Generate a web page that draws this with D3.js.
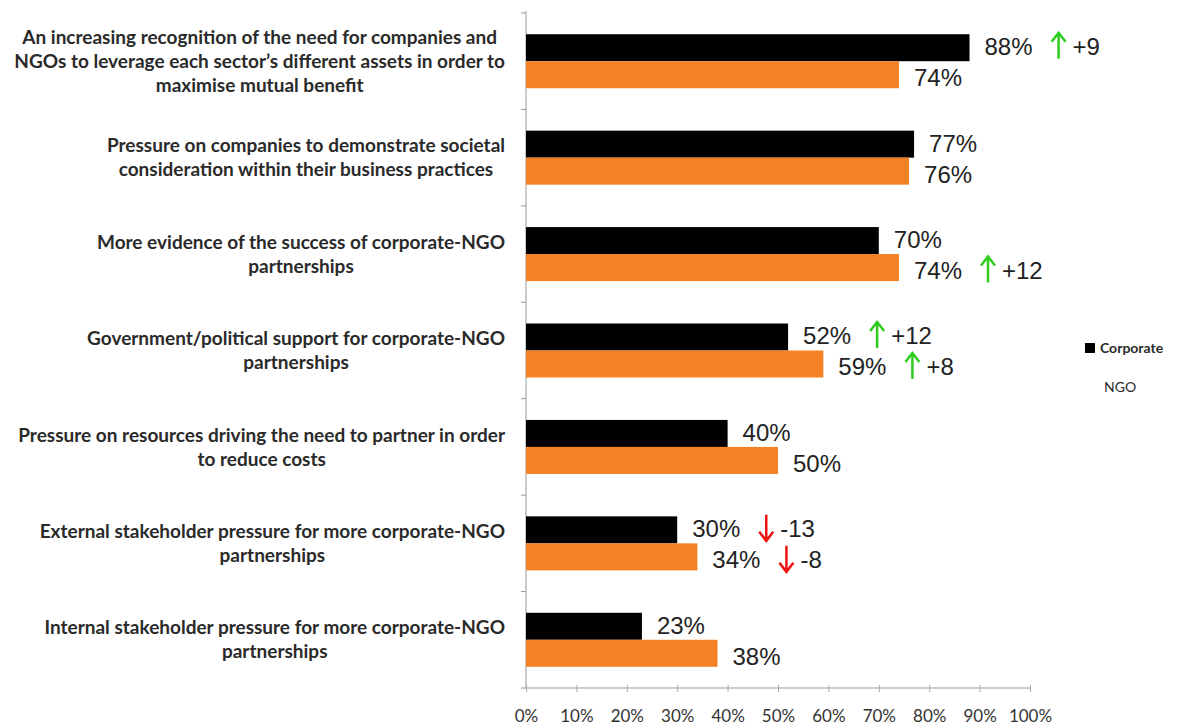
<!DOCTYPE html>
<html>
  <head>
    <style>
      body {
        margin: 0;
        background: #fff;
      }
      svg text {
        font-family: "Lato", "Open Sans", sans-serif;
      }
    </style>
    <script src="https://d3js.org/d3.v7.min.js"></script>
  </head>
  <body>
    <script>
      const width = 1195;
      const height = 726;

      const categories = [
        ["An increasing recognition of the need for companies and", "NGOs to leverage each sector\u2019s different  assets in order to", "maximise mutual benefit"],
        ["Pressure on companies to demonstrate societal", "consideration within their business practices"],
        ["More evidence of the success of corporate-NGO", "partnerships"],
        ["Government/political support for corporate-NGO", "partnerships"],
        ["Pressure on resources driving the need to partner in order", "to reduce costs"],
        ["External stakeholder pressure for more corporate-NGO", "partnerships"],
        ["Internal stakeholder pressure for more corporate-NGO", "partnerships"]
      ];
      const corporate = [88, 77, 70, 52, 40, 30, 23];
      const ngo = [74, 76, 74, 59, 50, 34, 38];
      const corporateChange = [9, null, null, 12, null, -13, null];
      const ngoChange = [null, null, 12, 8, null, -8, null];
      const xTicks = [0, 10, 20, 30, 40, 50, 60, 70, 80, 90, 100];
      const seriesNames = ["Corporate", "NGO"];

      const plotLeft = 526;
      const plotRight = 1030;
      const plotTop = 13;
      const plotBottom = 688;

      const svg = d3
        .select("body")
        .append("svg")
        .attr("width", width)
        .attr("height", height);

      const x = d3.scaleLinear().domain([0, 100]).range([plotLeft, plotRight]);
      const y = d3
        .scaleBand()
        .domain(d3.range(categories.length))
        .range([plotTop, plotBottom])
        .paddingInner(0.44)
        .paddingOuter(0.22);
      const sub = d3
        .scaleBand()
        .domain([0, 1])
        .range([0, y.bandwidth()]);

      // x axis
      const xAxis = d3
        .axisBottom(x)
        .tickValues(xTicks)
        .tickSize(6)
        .tickFormat((d) => d + "%");
      const gx = svg
        .append("g")
        .attr("transform", "translate(0," + plotBottom + ")")
        .call(xAxis);
      gx.select(".domain").attr("stroke", "#999").attr("d", "M" + plotLeft + ",0H" + plotRight);
      gx.selectAll(".tick line").attr("stroke", "#aaa").attr("y1", -3).attr("y2", 4);
      gx.selectAll(".tick text")
        .attr("y", 22)
        .attr("fill", "#333")
        .style("font-size", "17px");

      // y axis
      const gy = svg.append("g").attr("transform", "translate(" + plotLeft + ",0)");
      gy.append("line")
        .attr("y1", plotTop - 2)
        .attr("y2", plotBottom)
        .attr("stroke", "#999");
      gy.selectAll(".yt")
        .data(d3.range(categories.length + 1))
        .enter()
        .append("line")
        .attr("x1", -5)
        .attr("x2", 0)
        .attr("y1", (i) => plotTop + (i * (plotBottom - plotTop)) / categories.length)
        .attr("y2", (i) => plotTop + (i * (plotBottom - plotTop)) / categories.length)
        .attr("stroke", "#999");

      // category labels: lines centred inside a right-aligned block
      const labelRight = 505;
      const lineH = 24;
      categories.forEach((lines, i) => {
        const g = svg.append("g");
        const cy = y(i) + y.bandwidth() / 2;
        const texts = lines.map((t, j) =>
          g
            .append("text")
            .attr("text-anchor", "middle")
            .attr("y", cy + (j - (lines.length - 1) / 2) * lineH)
            .attr("dy", "0.35em")
            .attr("fill", "#2a2a2a")
            .style("font-size", "19px")
            .style("font-weight", "bold")
            .text(t)
        );
        const maxW = d3.max(texts, (t) => t.node().getComputedTextLength());
        texts.forEach((t) => t.attr("x", labelRight - maxW / 2));
      });

      const series = [
        { values: corporate, change: corporateChange, color: "#000", shift: -1 },
        { values: ngo, change: ngoChange, color: "#f48123", shift: 3 }
      ];

      series.forEach((s, k) => {
        s.values.forEach((v, i) => {
          const by = y(i) + sub(k);
          const bh = sub.bandwidth();
          svg
            .append("rect")
            .attr("x", x(0))
            .attr("y", by)
            .attr("width", x(v) - x(0))
            .attr("height", bh)
            .attr("fill", s.color);

          const ty = by + bh / 2 + s.shift;
          const lbl = svg
            .append("text")
            .attr("x", x(v) + 15)
            .attr("y", ty)
            .attr("dy", "0.35em")
            .attr("fill", "#222")
            .style("font-family", "Liberation Sans, Arial, sans-serif")
            .style("font-size", "24px")
            .text(v + "%");

          const c = s.change[i];
          if (c !== null) {
            const ax = x(v) + 15 + lbl.node().getComputedTextLength() + 26;
            const cy = ty - 1;
            const col = c > 0 ? "#2ecc1f" : "#ee1111";
            const dir = c > 0 ? -1 : 1;
            const tipY = cy + dir * 13;
            const tailY = cy - dir * 13;
            svg
              .append("path")
              .attr("d", "M" + ax + "," + tailY + "L" + ax + "," + tipY +
                "M" + (ax - 7) + "," + (tipY - dir * 9) + "L" + ax + "," + tipY +
                "L" + (ax + 7) + "," + (tipY - dir * 9))
              .attr("fill", "none")
              .attr("stroke", col)
              .attr("stroke-width", 2.5);
            svg
              .append("text")
              .attr("x", ax + 14)
              .attr("y", ty)
              .attr("dy", "0.35em")
              .attr("fill", "#222")
              .style("font-family", "Liberation Sans, Arial, sans-serif")
              .style("font-size", "24px")
              .text((c > 0 ? "+" : "") + c);
          }
        });
      });

      // legend (the NGO swatch is missing in the original)
      svg
        .append("rect")
        .attr("x", 1085)
        .attr("y", 343)
        .attr("width", 10)
        .attr("height", 10)
        .attr("fill", "#000");
      svg
        .append("text")
        .attr("x", 1100)
        .attr("y", 348)
        .attr("dy", "0.35em")
        .attr("fill", "#2a2a2a")
        .style("font-size", "14px")
        .style("font-weight", "bold")
        .text(seriesNames[0]);
      svg
        .append("text")
        .attr("x", 1104)
        .attr("y", 387)
        .attr("dy", "0.35em")
        .attr("fill", "#2a2a2a")
        .style("font-size", "14px")
        .text(seriesNames[1]);
    </script>
  </body>
</html>
